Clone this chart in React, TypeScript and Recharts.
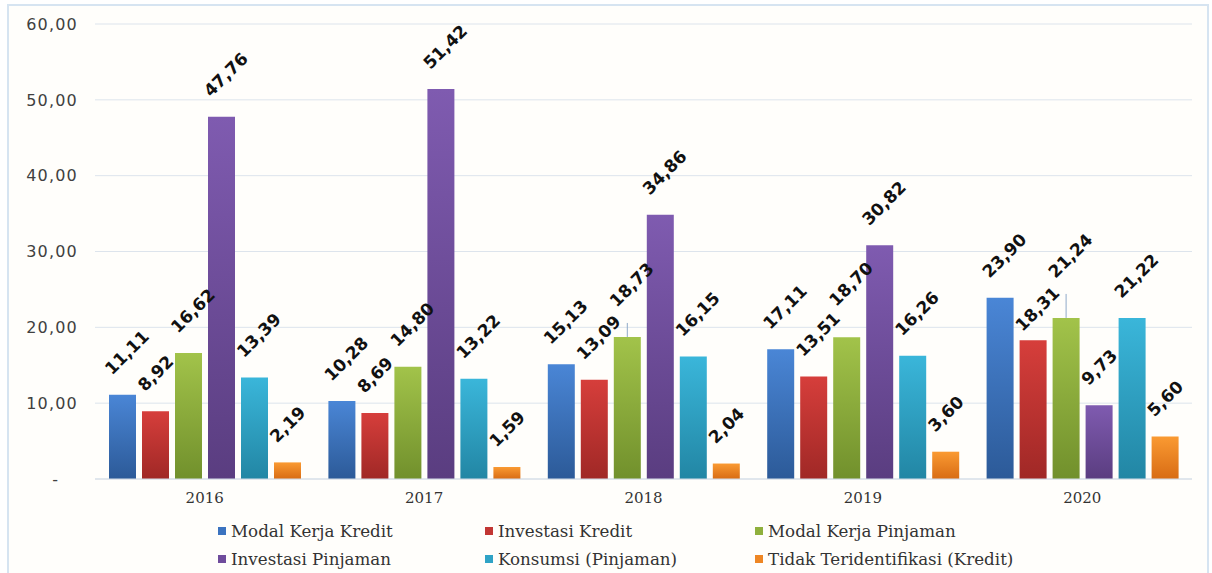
import { Bar, BarChart, CartesianGrid, LabelList, Legend, XAxis, YAxis } from "recharts";

const years = ["2016", "2017", "2018", "2019", "2020"];
const modalKerjaKredit = [11.11, 10.28, 15.13, 17.11, 23.9];
const investasiKredit = [8.92, 8.69, 13.09, 13.51, 18.31];
const modalKerjaPinjaman = [16.62, 14.8, 18.73, 18.7, 21.24];
const investasiPinjaman = [47.76, 51.42, 34.86, 30.82, 9.73];
const konsumsiPinjaman = [13.39, 13.22, 16.15, 16.26, 21.22];
const tidakTeridentifikasi = [2.19, 1.59, 2.04, 3.6, 5.6];
const yTicks = [0, 10, 20, 30, 40, 50, 60];

const series = [
  { key: "mkk", name: "Modal Kerja Kredit", values: modalKerjaKredit, top: "#4a86d6", bottom: "#2c5a98", legend: "#3b73c0" },
  { key: "ik", name: "Investasi Kredit", values: investasiKredit, top: "#d63e3b", bottom: "#a02826", legend: "#c23633" },
  { key: "mkp", name: "Modal Kerja Pinjaman", values: modalKerjaPinjaman, top: "#a2c34a", bottom: "#71902c", legend: "#8fb03c" },
  { key: "ip", name: "Investasi Pinjaman", values: investasiPinjaman, top: "#7f5bb0", bottom: "#5a3d80", legend: "#6f4c9c" },
  { key: "kp", name: "Konsumsi (Pinjaman)", values: konsumsiPinjaman, top: "#3ab6da", bottom: "#2286a4", legend: "#2fa3c6" },
  { key: "ti", name: "Tidak Teridentifikasi (Kredit)", values: tidakTeridentifikasi, top: "#fa9a32", bottom: "#d86c14", legend: "#ee8624" },
];

// labels that were nudged by hand in the original to avoid overlaps
const labelNudge: Record<string, { dy: number; leader?: number }> = {
  "mkp|2018": { dy: -10, leader: 14 },
  "mkp|2019": { dy: -11 },
  "mkp|2020": { dy: -20, leader: 24 },
  "ik|2020": { dy: 11 },
};

const data = years.map((year, i) => {
  const row: Record<string, string | number> = { year };
  series.forEach((s) => {
    row[s.key] = s.values[i];
  });
  return row;
});

const fmt = (v: number) => v.toFixed(2).replace(".", ",");

const makeLabel = (key: string) => (props: any) => {
  const { x, y, width, value, index } = props;
  const nudge = labelNudge[`${key}|${years[index]}`];
  const sx = Number(x) + 3;
  const sy = Number(y) - 19 + (nudge ? nudge.dy : 0);
  const cx = Number(x) + Number(width) / 2;
  return (
    <g>
      {nudge && nudge.leader ? (
        <line x1={cx} x2={cx} y1={Number(y) - nudge.leader} y2={Number(y)} stroke="#8fa9c9" strokeWidth={1} />
      ) : null}
      <text
        x={sx}
        y={sy}
        transform={`rotate(-45 ${sx} ${sy})`}
        textAnchor="start"
        fontFamily="'DejaVu Sans', Verdana, sans-serif"
        fontWeight="bold"
        fontSize={17}
        fill="#111"
      >
        {fmt(Number(value))}
      </text>
    </g>
  );
};

const renderLegend = () => (
  <div
    style={{
      display: "grid",
      gridTemplateColumns: "267px 270px auto",
      gridAutoRows: "28px",
      paddingLeft: 218,
      fontFamily: "'DejaVu Serif', serif",
      fontSize: 16.7,
      color: "#333",
    }}
  >
    {series.map((s) => (
      <div key={s.key} style={{ display: "flex", alignItems: "center" }}>
        <span style={{ width: 8, height: 8, background: s.legend, marginRight: 5, display: "inline-block" }} />
        <span>{s.name}</span>
      </div>
    ))}
  </div>
);

export default function App() {
  return (
    <div style={{ position: "absolute", left: 0, top: 0, width: 1212, height: 573, overflow: "hidden", background: "#fff" }}>
      <div
        style={{
          position: "absolute",
          left: 7,
          top: 4,
          width: 1198,
          height: 620,
          border: "2px solid #d6e4f1",
          background: "#fffefb",
        }}
      />
      <div style={{ position: "absolute", left: 0, top: 0 }}>
        <BarChart
          width={1212}
          height={573}
          data={data}
          margin={{ top: 24, right: 20, left: 0, bottom: 64 }}
          barGap={6}
          barSize={27}
        >
          <defs>
            {series.map((s) => (
              <linearGradient key={s.key} id={`g-${s.key}`} x1="0" y1="0" x2="0" y2="1">
                <stop offset="0%" stopColor={s.top} />
                <stop offset="100%" stopColor={s.bottom} />
              </linearGradient>
            ))}
          </defs>
          <CartesianGrid vertical={false} stroke="#dde4ec" />
          <XAxis
            dataKey="year"
            height={30}
            tickLine={false}
            tickSize={6}
            tickMargin={7}
            axisLine={{ stroke: "#d3dce6" }}
            tick={{ fontFamily: "'DejaVu Serif', serif", fontSize: 15, fill: "#333" }}
          />
          <YAxis
            width={95}
            domain={[0, 60]}
            ticks={yTicks}
            interval={0}
            tickLine={false}
            axisLine={false}
            tickSize={6}
            tickMargin={11}
            tickFormatter={(v: number) => (v === 0 ? "-\u00a0\u00a0\u00a0" : fmt(v))}
            tick={{ fontFamily: "'DejaVu Sans', Verdana, sans-serif", fontSize: 16, fill: "#404040", letterSpacing: 1.2 }}
          />
          <Legend
            layout="horizontal"
            verticalAlign="middle"
            content={renderLegend}
            wrapperStyle={{ top: 517, left: 0, width: 1212 }}
          />
          {series.map((s) => (
            <Bar key={s.key} dataKey={s.key} name={s.name} fill={`url(#g-${s.key})`} isAnimationActive={false}>
              <LabelList dataKey={s.key} content={makeLabel(s.key)} />
            </Bar>
          ))}
        </BarChart>
      </div>
    </div>
  );
}
